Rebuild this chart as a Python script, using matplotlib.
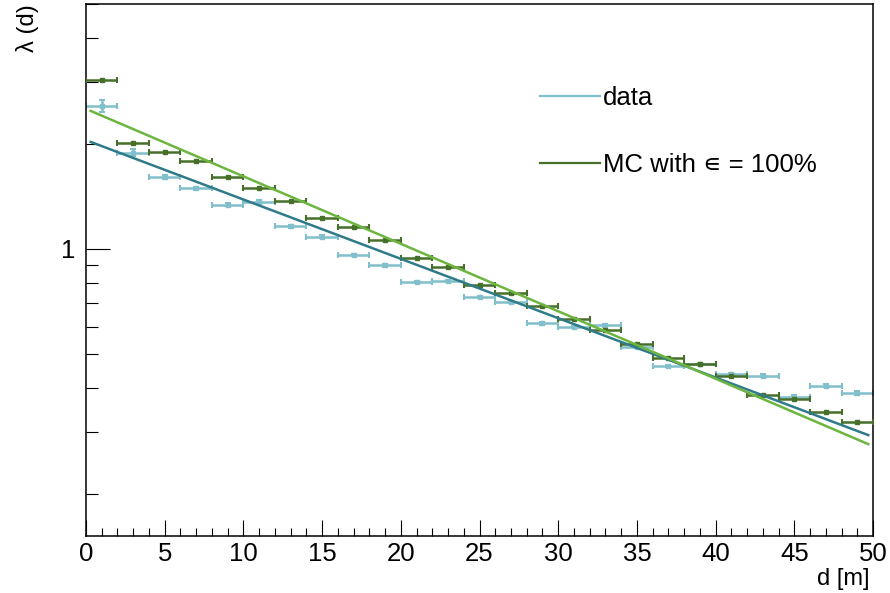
import matplotlib
matplotlib.use("Agg")
import matplotlib.pyplot as plt
from matplotlib.lines import Line2D
from matplotlib.ticker import NullFormatter

plt.rcParams["font.family"] = ["Liberation Sans", "DejaVu Sans"]

# 2 m wide distance bins
bin_centers = [1, 3, 5, 7, 9, 11, 13, 15, 17, 19, 21, 23, 25,
               27, 29, 31, 33, 35, 37, 39, 41, 43, 45, 47, 49]
bin_half_width = 1.0

# measured lambda per bin
data_lambda = [2.563, 1.884, 1.603, 1.489, 1.337, 1.365, 1.160, 1.084, 0.960,
               0.898, 0.805, 0.812, 0.729, 0.706, 0.613, 0.598, 0.605, 0.525,
               0.463, 0.469, 0.438, 0.434, 0.378, 0.407, 0.388]
data_err = [0.100, 0.044, 0.020, 0.016, 0.012, 0.012, 0.010, 0.009, 0.008,
            0.007, 0.006, 0.006, 0.006, 0.005, 0.005, 0.005, 0.005, 0.004,
            0.004, 0.004, 0.004, 0.004, 0.004, 0.004, 0.004]

# simulation, full efficiency
mc_lambda = [3.034, 2.004, 1.889, 1.782, 1.603, 1.492, 1.371, 1.224, 1.158,
             1.061, 0.941, 0.890, 0.789, 0.750, 0.688, 0.631, 0.586, 0.534,
             0.487, 0.469, 0.433, 0.383, 0.372, 0.342, 0.320]

# exponential fits (straight lines on the log axis), given at the fit-range ends
fit_range = [0.3, 49.7]
data_fit = [2.022, 0.294]
mc_fit = [2.480, 0.277]

col_data = "#80bfcb"
col_mc = "#46702a"
col_data_fit = "#2f7b8a"
col_mc_fit = "#6cb53f"

fig = plt.figure(figsize=(8.9, 5.93), dpi=100)
ax = fig.add_axes([86 / 890, 57 / 593, 787 / 890, 532 / 593])
ax.set_yscale("log")

ax.errorbar(bin_centers, data_lambda, xerr=bin_half_width, yerr=data_err,
            fmt="s", ms=3.5, color=col_data, ecolor=col_data, elinewidth=1.8,
            capsize=2.5, capthick=1.5, zorder=2)
ax.errorbar(bin_centers, mc_lambda, xerr=bin_half_width,
            fmt="s", ms=2.5, color=col_mc, ecolor=col_mc, elinewidth=1.8,
            capsize=2.5, capthick=1.5, zorder=3)
ax.plot(fit_range, data_fit, color=col_data_fit, lw=1.8, zorder=4)
ax.plot(fit_range, mc_fit, color=col_mc_fit, lw=1.8, zorder=5)

ax.set_xlim(0, 50)
ax.set_ylim(0.1514, 5.01)

ax.set_xticks(range(0, 51, 5))
ax.set_xticks(range(0, 51, 1), minor=True)
ax.set_yticks([1])
ax.set_yticklabels(["1"])
ax.set_yticks([0.2, 0.3, 0.4, 0.5, 0.6, 0.7, 0.8, 0.9, 2, 3, 4, 5], minor=True)
ax.yaxis.set_minor_formatter(NullFormatter())

ax.tick_params(which="both", direction="in", top=False, right=False,
               labelsize=18.5, width=0.8, color="black")
ax.tick_params(axis="x", which="major", length=11.5, pad=4)
ax.tick_params(axis="x", which="minor", length=5.75)
ax.tick_params(axis="y", which="major", length=17, pad=8)
ax.tick_params(axis="y", which="minor", length=8.6)

for sp in ax.spines.values():
    sp.set_linewidth(1.1)
    sp.set_color("black")

ax.set_xlabel("d [m]", fontsize=17, loc="right")
ax.xaxis.set_label_coords(0.996, -0.081)
ax.xaxis.label.set_va("center")

ax.set_ylabel("λ (d)", fontsize=17, loc="top")
ax.yaxis.set_label_coords(-0.0737, 1.0)
ax.yaxis.label.set(va="center", ha="right", rotation_mode="anchor")

handles = [Line2D([], [], color=col_data, lw=1.6),
           Line2D([], [], color=col_mc, lw=1.6)]
ax.legend(handles, ["data", "MC with \u220a = 100%"], loc="upper left",
          bbox_to_anchor=(0.577, 0.845), frameon=False, fontsize=18.5,
          handlelength=2.33, handletextpad=0.1, labelspacing=1.66,
          borderpad=0, borderaxespad=0)

fig.savefig("out.png", dpi=100)
